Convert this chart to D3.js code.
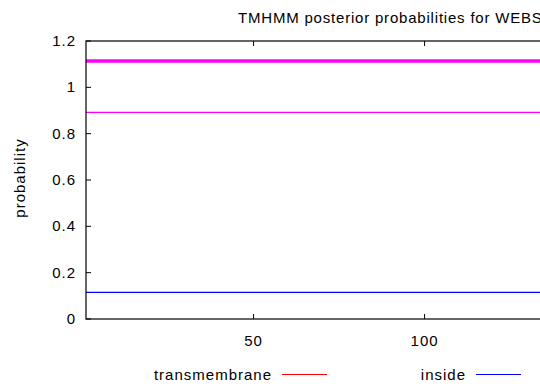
<!DOCTYPE html>
<html>
<head>
<meta charset="utf-8">
<script src="https://d3js.org/d3.v7.min.js"></script>
<style>
  body { margin: 0; background: #fff; }
  svg { display: block; font-family: "Liberation Sans", Arial, sans-serif; }
  text { font-size: 15px; letter-spacing: 1px; fill: #000; }
</style>
</head>
<body>
<svg width="540" height="386"></svg>
<script>
// sequence positions (plot is cropped on the right)
var positions = [1, 160];
var yTicks = [0, 0.2, 0.4, 0.6, 0.8, 1, 1.2];
var xTicks = [50, 100];
// posterior probabilities, flat over the sequence
var topology = [1.114, 1.114];
var outside = [0.892, 0.892];
var inside = [0.115, 0.115];
var legendNames = ["transmembrane", "inside"];
var legendColors = ["#ff0000", "#0000ff"];

var svg = d3.select("svg");
var plotLeft = 86, plotTop = 41, plotBottom = 319;

var x = d3.scaleLinear().domain([1, 160]).range([plotLeft, plotLeft + 159 * 3.42]);
var y = d3.scaleLinear().domain([0, 1.2]).range([plotBottom, plotTop]);
var plotRight = x(160);

// clip for data lines
svg.append("defs").append("clipPath").attr("id", "plot")
  .append("rect").attr("x", plotLeft).attr("y", plotTop)
  .attr("width", plotRight - plotLeft).attr("height", plotBottom - plotTop);

var line = d3.line().x(function(d) { return x(d[0]); }).y(function(d) { return y(d[1]); });
function pts(vals) { return positions.map(function(p, i) { return [p, vals[i]]; }); }

var g = svg.append("g").attr("clip-path", "url(#plot)");
g.append("path").attr("d", line(pts(inside))).attr("fill", "none").attr("stroke", "#0000ff").attr("stroke-width", 1.3);
g.append("path").attr("d", line(pts(outside))).attr("fill", "none").attr("stroke", "#ff00ff").attr("stroke-width", 1.3);
g.append("path").attr("d", line(pts(topology))).attr("fill", "none").attr("stroke", "#ff00ff").attr("stroke-width", 3.5);

// frame
svg.append("rect").attr("x", plotLeft).attr("y", plotTop)
  .attr("width", plotRight - plotLeft).attr("height", plotBottom - plotTop)
  .attr("fill", "none").attr("stroke", "#000").attr("stroke-width", 1.2);

// y ticks (gnuplot style, inward)
yTicks.forEach(function(t) {
  svg.append("line").attr("x1", plotLeft).attr("x2", plotLeft + 5).attr("y1", y(t)).attr("y2", y(t))
    .attr("stroke", "#000").attr("stroke-width", 1);
  svg.append("text").attr("x", 76).attr("y", y(t) + 5).attr("text-anchor", "end")
    .text(d3.format("~g")(t));
});
// x ticks, mirrored on top
xTicks.forEach(function(t) {
  svg.append("line").attr("x1", x(t)).attr("x2", x(t)).attr("y1", plotBottom).attr("y2", plotBottom - 5)
    .attr("stroke", "#000").attr("stroke-width", 1);
  svg.append("line").attr("x1", x(t)).attr("x2", x(t)).attr("y1", plotTop).attr("y2", plotTop + 5)
    .attr("stroke", "#000").attr("stroke-width", 1);
  svg.append("text").attr("x", x(t)).attr("y", 346).attr("text-anchor", "middle").text(t);
});

// title (cut by the right edge, as in the original)
svg.append("text").attr("x", 238).attr("y", 23).style("letter-spacing", "0.8px")
  .text("TMHMM posterior probabilities for WEBSEQUENCE");

// y label
svg.append("text").attr("transform", "translate(25,178) rotate(-90)").attr("text-anchor", "middle")
  .text("probability");

// legend
var legendX = [272, 466];
legendNames.forEach(function(name, i) {
  svg.append("text").attr("x", legendX[i]).attr("y", 380).attr("text-anchor", "end").text(name);
  svg.append("line").attr("x1", legendX[i] + 10).attr("x2", legendX[i] + 55).attr("y1", 374.5).attr("y2", 374.5)
    .attr("stroke", legendColors[i]).attr("stroke-width", 1);
});
</script>
</body>
</html>
